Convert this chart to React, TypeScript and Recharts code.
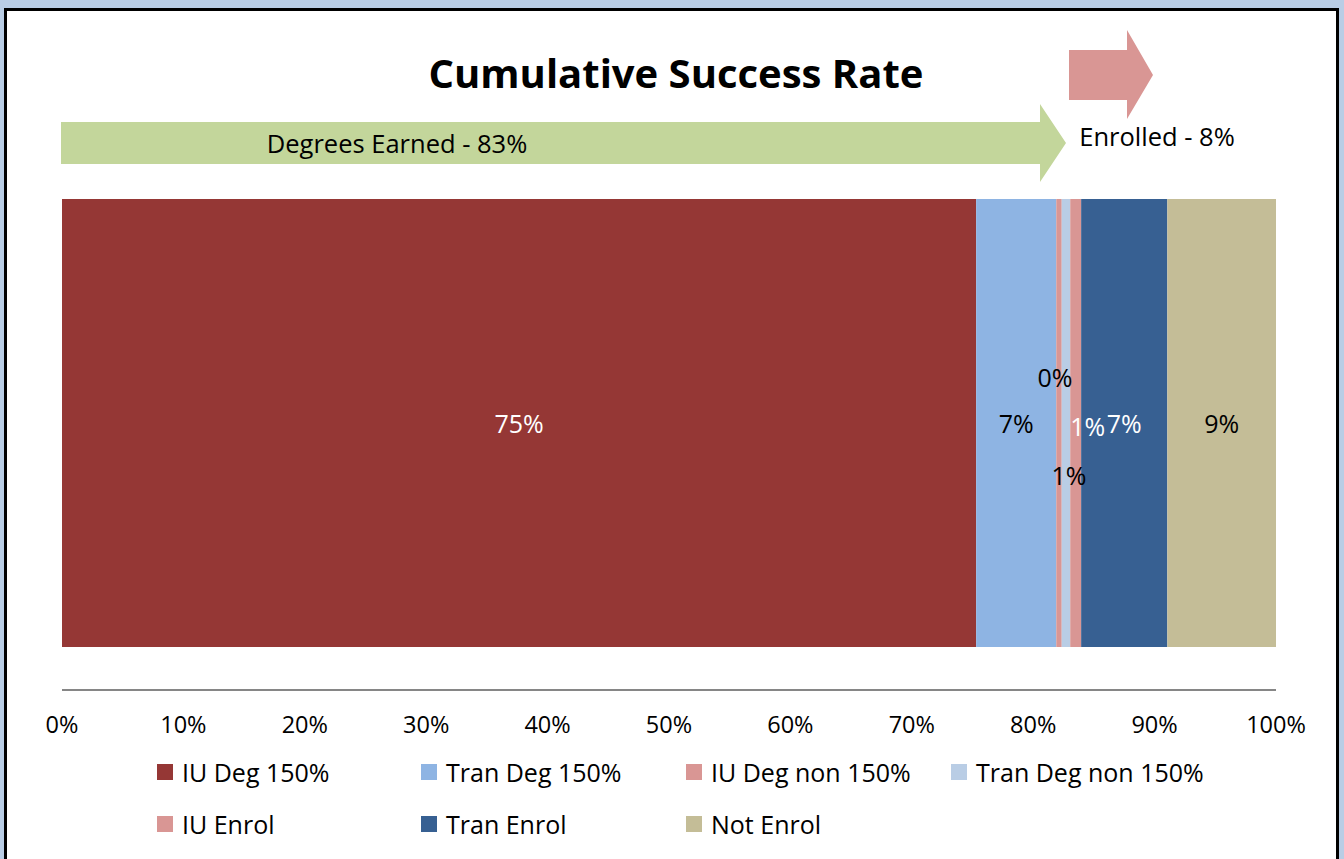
import React from 'react';
import { BarChart, Bar, XAxis, YAxis, LabelList } from 'recharts';

// categories / series
const seriesNames = ['IU Deg 150%', 'Tran Deg 150%', 'IU Deg non 150%', 'Tran Deg non 150%', 'IU Enrol', 'Tran Enrol', 'Not Enrol'];
const seriesValues = [75.3, 6.6, 0.45, 0.7, 0.9, 7.1, 8.95];
const tickValues = [0, 10, 20, 30, 40, 50, 60, 70, 80, 90, 100];
const arrowLabels = ['Degrees Earned - 83%', 'Enrolled - 8%'];

// styles kept apart from the data
const colors = ['#953735', '#8EB4E3', '#D99694', '#B9CDE5', '#D99694', '#376092', '#C4BD97'];
const labelColors = ['#fff', '#000', '#000', '#000', '#fff', '#fff', '#000'];
const labelOffsets = [[0, 0], [0, 0], [-4, -46], [3, 52], [12, 3], [0, 0], [0, 0]];

const FONT = '"Open Sans", Lato, sans-serif';

const keys = seriesNames.map((_, i) => 's' + i);
const row: any = { name: 'All' };
keys.forEach((k, i) => (row[k] = seriesValues[i]));
const data = [row];

const makeLabel = (i: number) => (props: any) => {
  const { x, y, width, height, value } = props;
  const [dx, dy] = labelOffsets[i];
  return (
    <text
      x={x + width / 2 + dx}
      y={y + height / 2 + dy}
      textAnchor="middle"
      dominantBaseline="central"
      fill={labelColors[i]}
      fontSize={25}
      fontFamily={FONT}
    >
      {Math.round(value) + '%'}
    </text>
  );
};

const legendPos = [
  [157, 772], [421, 772], [686, 772], [951, 772],
  [157, 824], [421, 824], [686, 824],
];

export default function App() {
  return (
    <div style={{ position: 'absolute', left: 0, top: 0, width: 1344, height: 859, background: '#B9CDE5', overflow: 'hidden' }}>
      <div style={{ position: 'absolute', left: 4, top: 8, width: 1335, height: 860, background: '#fff', border: '3px solid #000', boxSizing: 'border-box' }} />
      <div style={{ position: 'absolute', left: 0, top: 0 }}>
        <BarChart
          width={1344}
          height={760}
          data={data}
          layout="vertical"
          margin={{ top: 156, right: 68, bottom: 0, left: 62 }}
          barCategoryGap={43}
        >
          <XAxis
            type="number"
            domain={[0, 100]}
            ticks={tickValues}
            tickFormatter={(v) => v + '%'}
            axisLine={{ stroke: '#868686', strokeWidth: 2 }}
            tickLine={false}
            tickSize={0}
            tickMargin={26}
            height={70}
            interval={0}
            tick={{ fill: '#000', fontSize: 23.5, fontFamily: FONT }}
          />
          <YAxis type="category" dataKey="name" hide />
          {keys.map((k, i) => (
            <Bar key={k} dataKey={k} stackId="a" fill={colors[i]} isAnimationActive={false}>
              <LabelList dataKey={k} content={makeLabel(i)} />
            </Bar>
          ))}
        </BarChart>
      </div>
      <svg width={1344} height={859} style={{ position: 'absolute', left: 0, top: 0, pointerEvents: 'none' }}>
        <text x={676} y={72} textAnchor="middle" dominantBaseline="central" fontSize={40} fontWeight="bold" fontFamily={FONT} fill="#000">
          Cumulative Success Rate
        </text>
        <polygon points="61,122 1040,122 1040,104 1066,143 1040,182 1040,164 61,164" fill="#C3D69B" />
        <polygon points="1069,50 1127,50 1127,30 1153,75 1127,119 1127,100 1069,100" fill="#D99694" />
        <text x={397} y={143} textAnchor="middle" dominantBaseline="central" fontSize={25.5} fontFamily={FONT} fill="#000">
          {arrowLabels[0]}
        </text>
        <text x={1157} y={136} textAnchor="middle" dominantBaseline="central" fontSize={25.5} fontFamily={FONT} fill="#000">
          {arrowLabels[1]}
        </text>
        {seriesNames.map((n, i) => (
          <g key={n}>
            <rect x={legendPos[i][0]} y={legendPos[i][1] - 8} width={16} height={16} fill={colors[i]} />
            <text x={legendPos[i][0] + 25} y={legendPos[i][1]} dominantBaseline="central" fontSize={25} fontFamily={FONT} fill="#000">
              {n}
            </text>
          </g>
        ))}
      </svg>
    </div>
  );
}
